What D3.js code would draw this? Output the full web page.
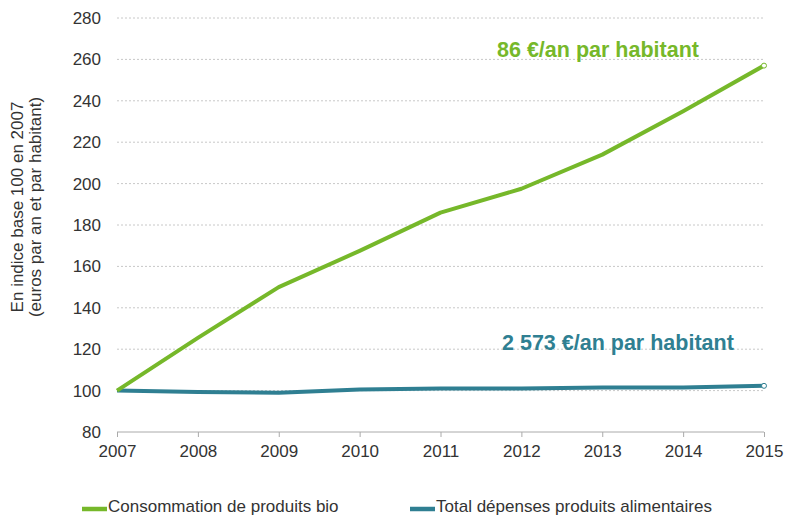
<!DOCTYPE html>
<html>
<head>
<meta charset="utf-8">
<script src="https://cdn.jsdelivr.net/npm/d3@7"></script>
<style>
  html, body { margin: 0; padding: 0; background: #fff; }
  svg { display: block; font-family: "Liberation Sans", Arial, sans-serif; }
</style>
</head>
<body>
<svg id="chart" width="785" height="516"></svg>
<script>
// Years on the x axis
const years = [2007, 2008, 2009, 2010, 2011, 2012, 2013, 2014, 2015];
// Index base 100 in 2007
const bioValues = [100, 125.5, 150, 167.5, 186, 197.5, 214, 235, 257];
const totalValues = [100, 99.3, 99, 100.5, 101, 101, 101.5, 101.5, 102.3];
const yTicks = [80, 100, 120, 140, 160, 180, 200, 220, 240, 260, 280];
const seriesNames = ["Consommation de produits bio", "Total dépenses produits alimentaires"];
const endLabels = ["86 €/an par habitant", "2 573 €/an par habitant"];

const green = "#76b82a";
const teal = "#2f7f92";
const textCol = "#333";
const fontFamily = "Liberation Sans, Arial, sans-serif";

const svg = d3.select("#chart");
const x = d3.scalePoint().domain(years).range([117, 764]);
const y = d3.scaleLinear().domain([80, 280]).range([432, 18]);

// Dotted horizontal gridlines
svg.append("g")
  .selectAll("line")
  .data(yTicks.filter(d => d !== 80))
  .join("line")
  .attr("x1", 117).attr("x2", 764)
  .attr("y1", d => y(d)).attr("y2", d => y(d))
  .attr("stroke", "#c8c8c8")
  .attr("stroke-width", 1)
  .attr("stroke-dasharray", "2,2");

// Y axis labels
const yAxis = svg.append("g")
  .attr("transform", "translate(117,0)")
  .call(d3.axisLeft(y).tickValues(yTicks).tickSize(0).tickPadding(16));
yAxis.select(".domain").remove();
yAxis.selectAll("text").attr("font-size", 17).attr("fill", textCol).attr("font-family", fontFamily);

// X axis
const xAxis = svg.append("g")
  .attr("transform", "translate(0,432)")
  .call(d3.axisBottom(x).tickSize(5).tickPadding(8).tickSizeOuter(0));
xAxis.select(".domain").attr("stroke", "#aaa").attr("d", "M117,0H764");
xAxis.selectAll(".tick line").attr("stroke", "#aaa");
xAxis.selectAll("text").attr("font-size", 17).attr("fill", textCol).attr("font-family", fontFamily);

// Y axis title
const title = svg.append("text")
  .attr("transform", "translate(23,207) rotate(-90)")
  .attr("text-anchor", "middle")
  .attr("font-size", 17)
  .attr("fill", textCol);
title.append("tspan").attr("x", 0).attr("dy", 0).text("En indice base 100 en 2007");
title.append("tspan").attr("x", 0).attr("dy", 18).text("(euros par an et par habitant)");

const line = d3.line().x((d, i) => x(years[i])).y(d => y(d));

[[totalValues, teal], [bioValues, green]].forEach(([vals, col]) => {
  svg.append("path")
    .datum(vals)
    .attr("d", line)
    .attr("fill", "none")
    .attr("stroke", col)
    .attr("stroke-width", 4)
    .attr("stroke-linejoin", "round");
  svg.append("circle")
    .attr("cx", x(years[years.length - 1]))
    .attr("cy", y(vals[vals.length - 1]))
    .attr("r", 2.5)
    .attr("fill", "#fff")
    .attr("stroke", col)
    .attr("stroke-width", 1);
});

// Annotations
svg.append("text")
  .attr("x", 497).attr("y", 57)
  .attr("font-size", 21.5).attr("font-weight", "bold")
  .attr("fill", green)
  .text(endLabels[0]);
svg.append("text")
  .attr("x", 502).attr("y", 350)
  .attr("font-size", 21.5).attr("font-weight", "bold")
  .attr("fill", teal)
  .text(endLabels[1]);

// Legend
const legendX = [82, 410];
const legendCols = [green, teal];
seriesNames.forEach((name, i) => {
  svg.append("line")
    .attr("x1", legendX[i]).attr("x2", legendX[i] + 25)
    .attr("y1", 509).attr("y2", 509)
    .attr("stroke", legendCols[i]).attr("stroke-width", 4.5);
  svg.append("text")
    .attr("x", legendX[i] + 26).attr("y", 512)
    .attr("font-size", 17).attr("fill", textCol)
    .text(name);
});
</script>
</body>
</html>
